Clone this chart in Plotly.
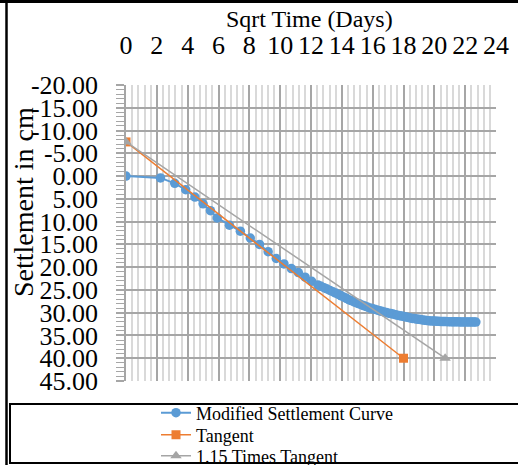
import numpy as np
import plotly.graph_objects as go

# ---- data ----
days = [0, 5, 10, 15, 20, 25, 30, 35, 45, 55, 65, 75, 85, 95, 105, 115, 125, 135, 145, 155,
        160, 165, 170, 175, 180, 185, 190, 195, 200, 205, 210, 215, 220, 225, 230, 235,
        240, 245, 250, 255, 260, 265, 270, 275, 280, 285, 290, 295, 300, 305, 310, 315,
        320, 325, 330, 335, 340, 345, 350, 355, 360, 365, 370, 375, 380, 385, 390, 395,
        400, 405, 410, 415, 420, 425, 430, 435, 440, 445, 450, 455, 460, 465, 470, 475,
        480, 485, 490, 495, 500, 505, 510, 515]
settlement = [0.0, 0.4, 1.6, 3.0, 4.6, 6.1, 7.6, 9.2, 10.8, 12.1, 13.6, 15.0, 16.6, 18.1, 19.3, 20.3, 21.2, 22.2, 23.1, 23.9,
              24.2, 24.5, 24.8, 25.1, 25.4, 25.7, 26.0, 26.3, 26.6, 26.9, 27.2, 27.4, 27.7, 27.9, 28.1, 28.35,
              28.55, 28.75, 28.95, 29.1, 29.25, 29.4, 29.55, 29.7, 29.85, 29.95, 30.1, 30.2, 30.3, 30.45, 30.55, 30.65,
              30.75, 30.85, 30.95, 31.05, 31.15, 31.25, 31.3, 31.4, 31.45, 31.5, 31.6, 31.65, 31.7, 31.75, 31.8, 31.82,
              31.85, 31.87, 31.9, 31.92, 31.94, 31.95, 31.96, 31.97, 31.98, 32.0, 32.0, 32.0, 32.01, 32.01, 32.02, 32.02,
              32.02, 32.03, 32.03, 32.03, 32.04, 32.04, 32.04, 32.05]
tangent_x = [0, 18]
tangent_y = [-7.5, 40]
tangent115_x = [0, 20.7]
tangent115_y = [-7.5, 40]
x_ticks = [0, 2, 4, 6, 8, 10, 12, 14, 16, 18, 20, 22, 24]
y_ticks = [-20, -15, -10, -5, 0, 5, 10, 15, 20, 25, 30, 35, 40, 45]

sqrt_t = np.sqrt(np.array(days, dtype=float))

W, H = 518, 465
L, R, T, B = 126, 22, 85, 84
pw, ph = W - L - R, H - T - B

def px(xp):
    return (xp - L) / pw

def py(yp):
    return (H - B - yp) / ph

FONT = "Liberation Serif, Times New Roman, serif"
BLUE, ORANGE, GREY = "#5B9BD5", "#ED7D31", "#A5A5A5"

fig = go.Figure()
fig.add_trace(go.Scatter(x=sqrt_t, y=settlement, mode="lines+markers",
                         name="Modified Settlement Curve", legend="legend",
                         line=dict(color=BLUE, width=2),
                         marker=dict(color=BLUE, size=9.5, symbol="circle")))
fig.add_trace(go.Scatter(x=tangent_x, y=tangent_y, mode="lines+markers", name="Tangent",
                         legend="legend2",
                         line=dict(color=ORANGE, width=1.5),
                         marker=dict(color=ORANGE, size=9, symbol="square")))
fig.add_trace(go.Scatter(x=tangent115_x, y=tangent115_y, mode="lines+markers",
                         name="1.15 Times Tangent", legend="legend3",
                         line=dict(color=GREY, width=1.5),
                         marker=dict(color=GREY, size=10, symbol="triangle-up")))

def leg(yc):
    return dict(x=px(156), y=py(yc), xanchor="left", yanchor="middle",
                font=dict(family=FONT, size=18, color="black"),
                bgcolor="rgba(0,0,0,0)", borderwidth=0)

fig.update_layout(
    width=W, height=H,
    margin=dict(l=L, r=R, t=T, b=B, pad=0, autoexpand=False),
    paper_bgcolor="white", plot_bgcolor="white",
    font=dict(family=FONT, color="black"),
    showlegend=True,
    legend=leg(413), legend2=leg(435), legend3=leg(456),
    xaxis=dict(range=[0, 24], side="top", tickvals=x_ticks,
               ticktext=[str(v) for v in x_ticks],
               tickfont=dict(family=FONT, size=26, color="black"),
               showgrid=True, gridcolor="#A6A6A6", gridwidth=1.5,
               ticks="", showline=False, zeroline=False, automargin=False,
               ticklabelstandoff=25,
               minor=dict(dtick=0.4, showgrid=True, gridcolor="#D9D9D9", gridwidth=1.5, ticks="")),
    yaxis=dict(range=[45, -20], tickvals=y_ticks,
               ticktext=[f"{v:.2f}" for v in y_ticks],
               tickfont=dict(family=FONT, size=26, color="black"),
               showgrid=True, gridcolor="#A6A6A6", gridwidth=1.5,
               ticks="outside", ticklen=8, tickcolor="#A6A6A6", tickwidth=1.5,
               showline=True, linecolor="#A6A6A6", linewidth=1.5, zeroline=False,
               ticklabelstandoff=13, automargin=False,
               minor=dict(dtick=1, ticks="outside", ticklen=8, tickcolor="#A6A6A6",
                          tickwidth=1, showgrid=False)),
    annotations=[
        dict(text="Sqrt Time (Days)", x=px(309), y=py(19), xref="paper", yref="paper",
             showarrow=False, xanchor="center", yanchor="middle",
             font=dict(family=FONT, size=24, color="black")),
        dict(text="Settlement in cm", x=px(23), y=py(202), xref="paper", yref="paper",
             showarrow=False, xanchor="center", yanchor="middle", textangle=-90,
             font=dict(family=FONT, size=28, color="black")),
    ],
    shapes=[
        dict(type="rect", xref="paper", yref="paper", x0=px(-5), x1=px(530), y0=py(0), y1=py(3),
             fillcolor="black", line=dict(width=0), layer="above"),
        dict(type="line", xref="paper", yref="paper", x0=px(6.5), x1=px(6.5), y0=py(0), y1=py(470),
             line=dict(color="black", width=2.5), layer="above"),
        dict(type="rect", xref="paper", yref="paper", x0=px(10), x1=px(530), y0=py(404), y1=py(463),
             line=dict(color="black", width=2), layer="above"),
    ],
)

fig.write_html("out.html", config={"displayModeBar": False},
               post_script="document.body.style.margin='0';document.body.style.padding='0';")
